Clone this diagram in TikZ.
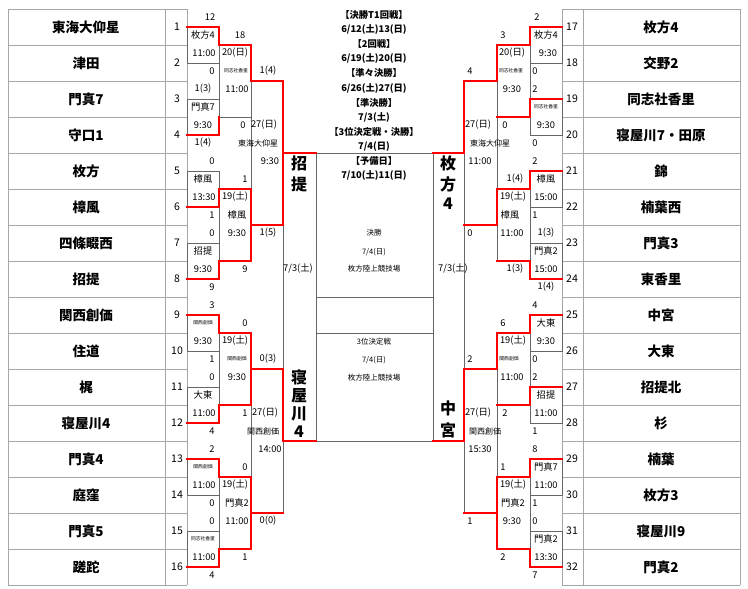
\documentclass[tikz,border=0pt]{standalone}
\usepackage{fontspec}
\setmainfont{Noto Sans CJK JP}
\tikzset{
  tx/.style={inner sep=0pt,font=\fontsize{9.3}{10}\selectfont},
  tinyt/.style={font=\fontsize{4.8}{5}\selectfont},
  bigt/.style={font=\fontsize{16}{17}\selectfont\bfseries},
  tname/.style={inner sep=0pt,font=\fontsize{13.5}{14}\selectfont\bfseries},
  tnum/.style={inner sep=0pt,font=\fontsize{10.5}{11}\selectfont},
  hdr/.style={inner sep=0pt,font=\fontsize{9.3}{10}\selectfont\bfseries},
  smt/.style={inner sep=0pt,font=\fontsize{7.5}{8}\selectfont},
  gl/.style={draw=gray!80!black,line width=0.8pt},
  tl/.style={draw=gray!70,line width=0.8pt},
  rl/.style={draw=red,line width=1.8pt,line cap=rect,line join=miter}
}
\newcommand\T[4][]{\node[tx,#1] (t#2-#3) at (#2,{17+18*#3}) {#4};}
\begin{document}
\begin{tikzpicture}[x=1pt,y=-1pt]
\useasboundingbox (0,0) rectangle (748,589);
\fill[white] (0,0) rectangle (748,589);
% tables
\foreach \i in {0,...,16}{
  \draw[tl] (8,{9+36*\i}) -- (187,{9+36*\i});
  \draw[tl] (562,{9+36*\i}) -- (740,{9+36*\i});
}
\foreach \xx in {8,165,187,562,583,740}{\draw[tl] (\xx,9) -- (\xx,585);}
\foreach \n [count=\i] in {東海大仰星,津田,門真7,守口1,枚方,樟風,四條畷西,招提,関西創価,住道,梶,寝屋川4,門真4,庭窪,門真5,蹉跎}{
  \node[tname] (ln\i) at (86,{27+36*(\i-1)}) {\n};
  \node[tnum] (lk\i) at (177,{27+36*(\i-1)}) {\i};
}
\foreach \n [count=\i] in {枚方4,交野2,同志社香里,寝屋川7・田原,錦,楠葉西,門真3,東香里,中宮,大東,招提北,杉,楠葉,枚方3,寝屋川9,門真2}{
  \pgfmathtruncatemacro\j{\i+16}
  \node[tname] (rn\j) at (661,{27+36*(\i-1)}) {\n};
  \node[tnum] (rk\j) at (572,{27+36*(\i-1)}) {\j};
}
% gray boxes
\foreach \k in {0,...,7}{
  \draw[gl] (187,{27+72*\k}) rectangle (219,{63+72*\k});
  \draw[gl] (530,{27+72*\k}) rectangle (562,{63+72*\k});
}
\foreach \k in {0,...,3}{
  \draw[gl] (219,{45+144*\k}) rectangle (251,{117+144*\k});
  \draw[gl] (497,{45+144*\k}) rectangle (530,{117+144*\k});
}
\foreach \k in {0,1}{
  \draw[gl] (251,{81+288*\k}) rectangle (283,{225+288*\k});
  \draw[gl] (464,{81+288*\k}) rectangle (497,{225+288*\k});
}
\draw[gl] (283,153) rectangle (316,441);
\draw[gl] (433,153) rectangle (464,441);
\draw[gl] (316,153) rectangle (433,441);
\draw[gl] (316,297) -- (433,297);
\draw[gl] (316,333) -- (433,333);
% red paths left
\draw[rl] (187,27)--(219,27)--(219,45);
\draw[rl] (187,135)--(219,135)--(219,117);
\draw[rl] (187,207)--(219,207)--(219,189);
\draw[rl] (187,279)--(219,279)--(219,261);
\draw[rl] (187,315)--(219,315)--(219,333);
\draw[rl] (187,423)--(219,423)--(219,405);
\draw[rl] (187,459)--(219,459)--(219,477);
\draw[rl] (187,567)--(219,567)--(219,549);
\draw[rl] (219,45)--(251,45)--(251,81);
\draw[rl] (219,189)--(251,189)--(251,261)--(219,261);
\draw[rl] (219,333)--(251,333)--(251,405)--(219,405);
\draw[rl] (219,477)--(251,477)--(251,549)--(219,549);
\draw[rl] (251,81)--(283,81)--(283,225)--(251,225);
\draw[rl] (251,369)--(283,369)--(283,441);
\draw[rl] (251,513)--(283,513);
\draw[rl] (283,153)--(316,153);
\draw[rl] (283,441)--(316,441);
% red paths right
\draw[rl] (562,27)--(530,27)--(530,45);
\draw[rl] (562,99)--(530,99)--(530,117);
\draw[rl] (562,171)--(530,171)--(530,189);
\draw[rl] (562,279)--(530,279)--(530,261);
\draw[rl] (562,315)--(530,315)--(530,333);
\draw[rl] (562,387)--(530,387)--(530,405);
\draw[rl] (562,459)--(530,459)--(530,477);
\draw[rl] (562,567)--(530,567)--(530,549);
\draw[rl] (530,45)--(497,45)--(497,81);
\draw[rl] (530,117)--(497,117);
\draw[rl] (530,189)--(497,189)--(497,225);
\draw[rl] (530,261)--(497,261);
\draw[rl] (530,333)--(497,333)--(497,369);
\draw[rl] (530,405)--(497,405);
\draw[rl] (530,477)--(497,477)--(497,549)--(530,549);
\draw[rl] (497,81)--(464,81)--(464,153);
\draw[rl] (497,225)--(464,225);
\draw[rl] (497,369)--(464,369)--(464,441);
\draw[rl] (497,513)--(464,513);
\draw[rl] (464,153)--(433,153);
\draw[rl] (464,441)--(433,441);
% left texts
\T{210}{0}{12}
\T{203}{1}{枚方4} \T{240}{1}{18}
\T{204}{2}{11:00} \T{235}{2}{20(日)}
\T{212}{3}{0} \T[tinyt]{236}{3}{同志社香里} \T{268}{3}{1(4)}
\T{203}{4}{1(3)} \T{237}{4}{11:00}
\T{203}{5}{門真7}
\T{203}{6}{9:30} \T{243}{6}{0} \T{264}{6}{27(日)}
\T{203}{7}{1(4)} \T[font=\fontsize{8}{8}\selectfont]{258}{7}{東海大仰星}
\T{212}{8}{0} \T{270}{8}{9:30}
\T{203}{9}{樟風} \T{245}{9}{1}
\T{204}{10}{13:30} \T{235}{10}{19(土)}
\T{212}{11}{1} \T{237}{11}{樟風}
\T{212}{12}{0} \T{237}{12}{9:30} \T{268}{12}{1(5)}
\T{203}{13}{招提}
\T{203}{14}{9:30} \T{245}{14}{9} \T{298}{14}{7/3(土)}
\T{212}{15}{9}
\T{212}{16}{3}
\T[tinyt]{203}{17}{関西創価} \T{245}{17}{0}
\T{203}{18}{9:30} \T{235}{18}{19(土)}
\T{212}{19}{1} \T[tinyt]{237}{19}{関西創価} \T{268}{19}{0(3)}
\T{212}{20}{0} \T{237}{20}{9:30}
\T{203}{21}{大東}
\T{204}{22}{11:00} \T{245}{22}{1} \T{265}{22}{27(日)}
\T{212}{23}{4} \T[font=\fontsize{8}{8}\selectfont]{263}{23}{関西創価}
\T{212}{24}{2} \T{270}{24}{14:00}
\T[tinyt]{203}{25}{関西創価} \T{245}{25}{0}
\T{204}{26}{11:00} \T{235}{26}{19(土)}
\T{212}{27}{0} \T{237}{27}{門真2}
\T{212}{28}{0} \T{237}{28}{11:00} \T{268}{28}{0(0)}
\T[tinyt]{203}{29}{同志社香里}
\T{204}{30}{11:00} \T{245}{30}{1}
\T{212}{31}{4}
% right texts
\T{537}{0}{2}
\T{503}{1}{3} \T{546}{1}{枚方4}
\T{512}{2}{20(日)} \T{548}{2}{9:30}
\T{470}{3}{4} \T[tinyt]{511}{3}{同志社香里} \T{535}{3}{0}
\T{512}{4}{9:30} \T{535}{4}{2}
\T[tinyt]{546}{5}{同志社香里}
\T{478}{6}{27(日)} \T{505}{6}{0} \T{546}{6}{9:30}
\T[font=\fontsize{8}{8}\selectfont]{490}{7}{東海大仰星} \T{535}{7}{0}
\T{480}{8}{11:00} \T{535}{8}{2}
\T{515}{9}{1(4)} \T{546}{9}{樟風}
\T{513}{10}{19(土)} \T{546}{10}{15:00}
\T{510}{11}{樟風} \T{535}{11}{1}
\T{470}{12}{0} \T{512}{12}{11:00} \T{546}{12}{1(3)}
\T{546}{13}{門真2}
\T{453}{14}{7/3(土)} \T{515}{14}{1(3)} \T{546}{14}{15:00}
\T{546}{15}{1(4)}
\T{535}{16}{4}
\T{503}{17}{6} \T{546}{17}{大東}
\T{513}{18}{19(土)} \T{546}{18}{9:30}
\T{470}{19}{2} \T[tinyt]{509}{19}{関西創価} \T{535}{19}{0}
\T{512}{20}{11:00} \T{535}{20}{2}
\T{546}{21}{招提}
\T{478}{22}{27(日)} \T{505}{22}{2} \T{546}{22}{11:00}
\T[font=\fontsize{8}{8}\selectfont]{485}{23}{関西創価} \T{535}{23}{1}
\T{480}{24}{15:30} \T{535}{24}{8}
\T{503}{25}{1} \T{546}{25}{門真7}
\T{513}{26}{19(土)} \T{546}{26}{11:00}
\T{513}{27}{門真2} \T{535}{27}{1}
\T{470}{28}{1} \T{512}{28}{9:30} \T{535}{28}{0}
\T{546}{29}{門真2}
\T{503}{30}{2} \T{546}{30}{13:30}
\T{535}{31}{7}
% semifinal names
\node[bigt,inner sep=0pt] (s1a) at (299,163) {招};
\node[bigt,inner sep=0pt] (s1b) at (299,184) {提};
\node[bigt,inner sep=0pt] (s2a) at (299,377) {寝};
\node[bigt,inner sep=0pt] (s2b) at (299,396) {屋};
\node[bigt,inner sep=0pt] (s2c) at (299,414) {川};
\node[bigt,inner sep=0pt] (s2d) at (299,432) {4};
\node[bigt,inner sep=0pt] (s3a) at (448,163) {枚};
\node[bigt,inner sep=0pt] (s3b) at (448,184) {方};
\node[bigt,inner sep=0pt] (s3c) at (448,204) {4};
\node[bigt,inner sep=0pt] (s4a) at (448,408) {中};
\node[bigt,inner sep=0pt] (s4b) at (448,430) {宮};
% center
\foreach \s [count=\i] in {【決勝T1回戦】,6/12(土)13(日),【2回戦】,6/19(土)20(日),【準々決勝】,6/26(土)27(日),【準決勝】,7/3(土),【3位決定戦・決勝】,7/4(日),【予備日】,7/10(土)11(日)}{
  \node[hdr] (h\i) at (374,{15+14.6*(\i-1)}) {\s};
}
\node[smt] (f1) at (374,233) {決勝};
\node[smt] (f2) at (374,252) {7/4(日)};
\node[smt] (f3) at (374,269) {枚方陸上競技場};
\node[smt] (g1) at (374,342) {3位決定戦};
\node[smt] (g2) at (374,360) {7/4(日)};
\node[smt] (g3) at (374,378) {枚方陸上競技場};
\end{tikzpicture}
\end{document}
